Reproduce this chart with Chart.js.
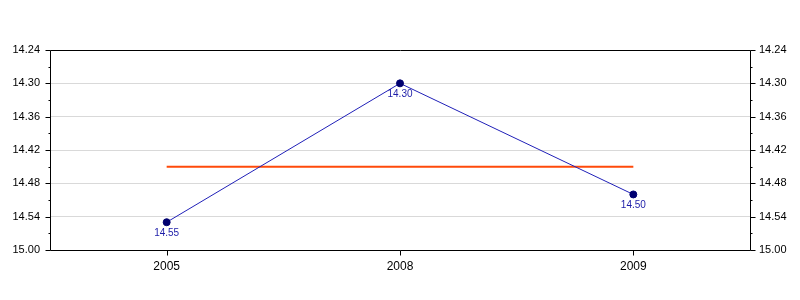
<!DOCTYPE html>
<html>
<head>
<meta charset="utf-8">
<script src="https://cdn.jsdelivr.net/npm/chart.js@4"></script>
<style>
  html, body { margin: 0; padding: 0; background: #fff; }
  #wrap { width: 800px; height: 300px; }
</style>
</head>
<body>
<div id="wrap"><canvas id="chart"></canvas></div>
<script>
// --- DATA ---
// times are min.sec values, kept in seconds (14.55 -> 14*60+55)
const years = ['2005', '2008', '2009'];
const timesSec = [895, 870, 890];      // 14.55, 14.30, 14.50
const averageSec = [885, 885, 885];    // 14.45
const yMin = 864;                      // 14.24
const yMax = 900;                      // 15.00
const yStep = 3;                       // minor tick every 3 s, label every 6 s

const FONT = "'Liberation Sans', Arial, sans-serif";

const fmt = v => `${Math.floor(v / 60)}.${String(Math.round(v % 60)).padStart(2, '0')}`;
const isMajor = v => (v - yMin) % 6 === 0;

// frame + outside tick marks (minor ones shorter)
const frameTicks = {
    id: 'frameTicks',
    afterDraw(chart) {
        const { ctx, chartArea: a, scales } = chart;
        const px = v => Math.round(v) + 0.5;
        ctx.save();
        ctx.strokeStyle = '#000';
        ctx.lineWidth = 1;
        ctx.beginPath();
        ctx.rect(px(a.left), px(a.top), Math.round(a.right - a.left), Math.round(a.bottom - a.top));
        ['y', 'y2'].forEach(id => {
            const s = scales[id];
            const left = id === 'y';
            s.ticks.forEach(t => {
                const y = px(s.getPixelForValue(t.value));
                const len = isMajor(t.value) ? 5 : 2;
                const x0 = left ? px(a.left) : px(a.right);
                ctx.moveTo(x0, y);
                ctx.lineTo(left ? x0 - len : x0 + len, y);
            });
        });
        const sx = scales.x;
        years.forEach((_, i) => {
            const x = px(sx.getPixelForValue(i));
            ctx.moveTo(x, px(a.bottom));
            ctx.lineTo(x, px(a.bottom) + 5);
        });
        ctx.stroke();
        ctx.restore();
    }
};

// value labels under the points
const valueLabels = {
    id: 'valueLabels',
    afterDatasetsDraw(chart) {
        const { ctx } = chart;
        const meta = chart.getDatasetMeta(0);
        ctx.save();
        ctx.font = `10px ${FONT}`;
        ctx.fillStyle = '#1c1ca8';
        ctx.textAlign = 'center';
        ctx.textBaseline = 'middle';
        meta.data.forEach((pt, i) => {
            ctx.fillText(fmt(timesSec[i]), pt.x, pt.y + 11);
        });
        ctx.restore();
    }
};

const yAxis = (position) => ({
    position,
    reverse: true,
    min: yMin,
    max: yMax,
    afterFit: s => { s.width = 50; },
    border: { display: false },
    grid: {
        drawTicks: false,
        drawOnChartArea: position === 'left',
        color: c => (c.tick && isMajor(c.tick.value) && c.tick.value !== yMin && c.tick.value !== yMax)
            ? '#d9d9d9' : 'rgba(0,0,0,0)',
        lineWidth: 1
    },
    ticks: {
        stepSize: yStep,
        autoSkip: false,
        padding: position === 'left' ? 10 : 9,
        color: '#000',
        font: { family: FONT, size: 11 },
        callback: v => isMajor(v) ? fmt(v) : ''
    }
});

new Chart(document.getElementById('chart'), {
    type: 'line',
    data: {
        labels: years,
        datasets: [
            {
                data: timesSec,
                borderColor: '#2020b8',
                borderWidth: 1,
                pointRadius: 3.5,
                pointBackgroundColor: '#000070',
                pointBorderColor: '#000070',
                pointBorderWidth: 1,
                tension: 0,
                yAxisID: 'y'
            },
            {
                data: averageSec,
                borderColor: '#ff4a0a',
                borderWidth: 2,
                pointRadius: 0,
                tension: 0,
                yAxisID: 'y'
            }
        ]
    },
    options: {
        responsive: true,
        maintainAspectRatio: false,
        animation: false,
        layout: { padding: { top: 50, left: 0, right: 0, bottom: 0 } },
        plugins: {
            legend: { display: false },
            tooltip: { enabled: false }
        },
        scales: {
            x: {
                offset: true,
                afterFit: s => { s.height = 50; },
                border: { display: false },
                grid: { display: false, drawTicks: false },
                ticks: {
                    padding: 9,
                    color: '#000',
                    font: { family: FONT, size: 12 }
                }
            },
            y: yAxis('left'),
            y2: yAxis('right')
        }
    },
    plugins: [frameTicks, valueLabels]
});
</script>
</body>
</html>
